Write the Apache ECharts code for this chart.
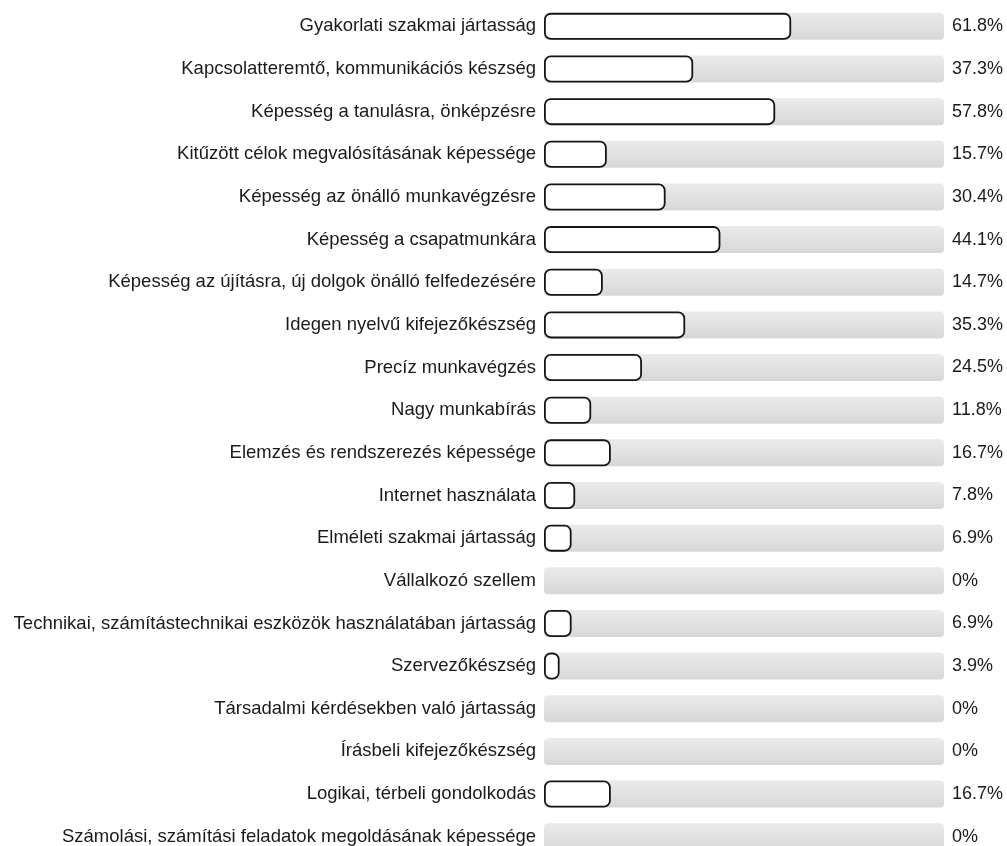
<!DOCTYPE html>
<html>
<head>
<meta charset="utf-8">
<script src="https://cdn.jsdelivr.net/npm/echarts@6/dist/echarts.min.js"></script>
<style>
html,body{margin:0;padding:0;background:#fff;overflow:hidden;}
#chart{width:1007px;height:880px;}
</style>
</head>
<body>
<div id="chart"></div>
<script>
// kategóriák
var categories = [
    'Gyakorlati szakmai jártasság',
    'Kapcsolatteremtő, kommunikációs készség',
    'Képesség a tanulásra, önképzésre',
    'Kitűzött célok megvalósításának képessége',
    'Képesség az önálló munkavégzésre',
    'Képesség a csapatmunkára',
    'Képesség az újításra, új dolgok önálló felfedezésére',
    'Idegen nyelvű kifejezőkészség',
    'Precíz munkavégzés',
    'Nagy munkabírás',
    'Elemzés és rendszerezés képessége',
    'Internet használata',
    'Elméleti szakmai jártasság',
    'Vállalkozó szellem',
    'Technikai, számítástechnikai eszközök használatában jártasság',
    'Szervezőkészség',
    'Társadalmi kérdésekben való jártasság',
    'Írásbeli kifejezőkészség',
    'Logikai, térbeli gondolkodás',
    'Számolási, számítási feladatok megoldásának képessége'
];
// százalékok
var values = [61.8, 37.3, 57.8, 15.7, 30.4, 44.1, 14.7, 35.3, 24.5, 11.8, 16.7, 7.8, 6.9, 0, 6.9, 3.9, 0, 0, 16.7, 0];
// háttér sáv (100%)
var fullValues = categories.map(function(){ return 100; });

var chart = echarts.init(document.getElementById('chart'), null, {renderer: 'canvas'});
var font = 'Liberation Sans, Arial, sans-serif';

var option = {
    animation: false,
    grid: {
        left: 544,
        right: 63,
        top: 5,
        height: 853,
        containLabel: false
    },
    xAxis: {
        type: 'value',
        min: 0,
        max: 100,
        show: false
    },
    yAxis: {
        type: 'category',
        data: categories,
        inverse: true,
        axisLine: {show: false},
        axisTick: {show: false},
        splitLine: {show: false},
        axisLabel: {
            margin: 8,
            color: '#1a1a1a',
            fontSize: 18.5,
            fontFamily: font
        }
    },
    series: [
        {
            // szürke háttér
            type: 'bar',
            data: fullValues,
            barWidth: 27,
            silent: true,
            itemStyle: {
                borderRadius: 4,
                color: new echarts.graphic.LinearGradient(0, 0, 0, 1, [
                    {offset: 0, color: '#ebebeb'},
                    {offset: 1, color: '#d7d7d7'}
                ])
            },
            label: {
                show: true,
                position: 'right',
                distance: 8,
                color: '#1a1a1a',
                fontSize: 18,
                fontFamily: font,
                formatter: function(p){ return values[p.dataIndex] + '%'; }
            }
        },
        {
            // érték sáv
            type: 'bar',
            data: values.map(function(v){ return v === 0 ? null : v; }),
            barWidth: 27,
            barGap: '-100%',
            itemStyle: {
                color: '#fff',
                borderColor: '#151515',
                borderWidth: 1.8,
                borderRadius: 6
            }
        }
    ]
};
chart.setOption(option);
</script>
</body>
</html>
